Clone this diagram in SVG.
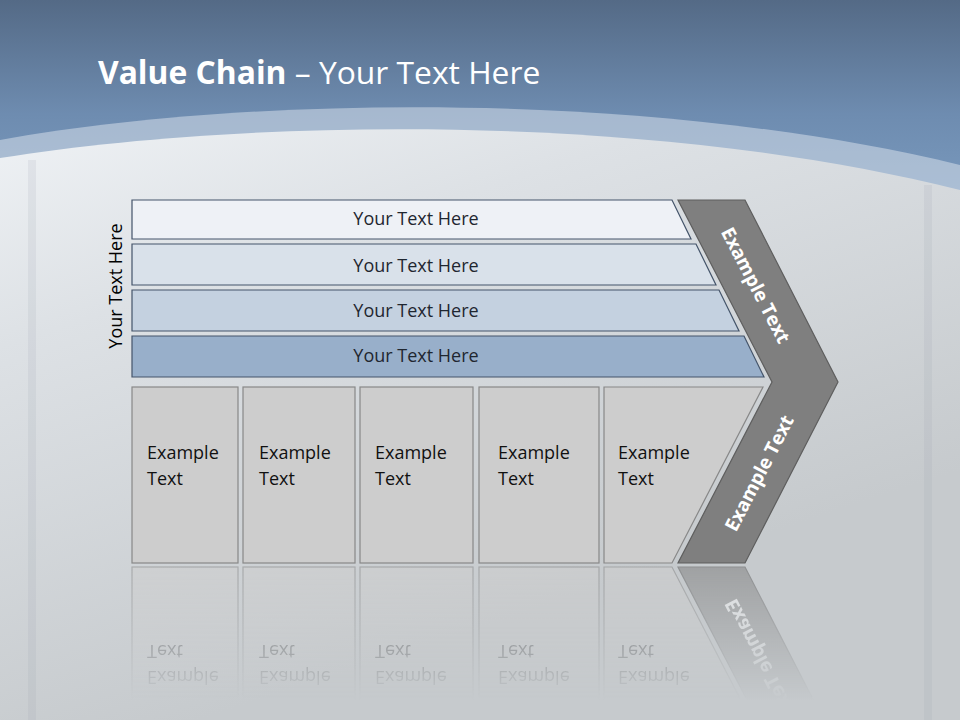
<svg xmlns="http://www.w3.org/2000/svg" width="960" height="720" viewBox="0 0 960 720">
<defs>
<linearGradient id="sky" x1="0" y1="0" x2="0" y2="190" gradientUnits="userSpaceOnUse">
<stop offset="0" stop-color="#546a86"/>
<stop offset="0.6" stop-color="#6e8cb0"/>
<stop offset="1" stop-color="#7898bc"/>
</linearGradient>
<linearGradient id="metal" x1="0" y1="110" x2="200" y2="720" gradientUnits="userSpaceOnUse">
<stop offset="0" stop-color="#f0f3f6"/>
<stop offset="0.35" stop-color="#dde1e5"/>
<stop offset="1" stop-color="#c6cacd"/>
</linearGradient>
<linearGradient id="fade" x1="0" y1="565" x2="0" y2="700" gradientUnits="userSpaceOnUse">
<stop offset="0" stop-color="#fff" stop-opacity="0.55"/>
<stop offset="1" stop-color="#fff" stop-opacity="0"/>
</linearGradient>
<mask id="refl" maskUnits="userSpaceOnUse" x="0" y="565" width="960" height="155">
<rect x="0" y="565" width="960" height="155" fill="url(#fade)"/>
</mask>
<style>
.bar{stroke:#44546a;stroke-width:1.2}
.bt{font-family:"Open Sans","DejaVu Sans",sans-serif;font-size:18px;fill:#1f2630;text-anchor:middle}
.box{fill:#cdcdcd;stroke:#888;stroke-width:1.2}
.xt{font-family:"Open Sans","DejaVu Sans",sans-serif;font-size:18px;fill:#111}
.chev{fill:#7f7f7f;stroke:#5e5e5e;stroke-width:1.2}
.ct{font-family:"Open Sans","DejaVu Sans",sans-serif;font-size:19px;font-weight:bold;fill:#fff;text-anchor:middle}
</style>
</defs>
<rect x="0" y="0" width="960" height="720" fill="url(#sky)"/>
<path d="M0,140 C250,95 650,90 960,165 L960,720 L0,720 Z" fill="#d6dfe9" fill-opacity="0.55"/>
<path d="M0,158 C250,118 650,112 960,190 L960,720 L0,720 Z" fill="url(#metal)"/>
<rect x="28" y="160" width="8" height="560" fill="#9aa3ad" fill-opacity="0.15"/>
<rect x="924" y="185" width="8" height="535" fill="#9aa3ad" fill-opacity="0.15"/>
<text x="98" y="84" font-family="Open Sans, DejaVu Sans, sans-serif" font-size="31.8" fill="#fff"><tspan font-weight="bold">Value Chain</tspan> – Your Text Here</text>
<text transform="translate(122,286) rotate(-90)" x="0" y="0" font-family="Open Sans, DejaVu Sans, sans-serif" font-size="18" fill="#000" text-anchor="middle">Your Text Here</text>
<g id="bar1"><path class="bar" d="M132,200 L672,200 L691,239 L132,239 Z" fill="#eef1f6"/><text class="bt" x="416" y="225">Your Text Here</text></g>
<g id="bar2"><path class="bar" d="M132,244 L696,244 L716,285 L132,285 Z" fill="#d9e1ea"/><text class="bt" x="416" y="272">Your Text Here</text></g>
<g id="bar3"><path class="bar" d="M132,290 L719,290 L739,331 L132,331 Z" fill="#c4d1e0"/><text class="bt" x="416" y="317">Your Text Here</text></g>
<g id="bar4"><path class="bar" d="M132,336 L744,336 L764,377 L132,377 Z" fill="#98afca"/><text class="bt" x="416" y="362">Your Text Here</text></g>
<g id="boxes">
<g id="box1"><rect class="box" x="132" y="387" width="106" height="176"/><text class="xt" x="147" y="459">Example<tspan x="147" dy="26">Text</tspan></text></g>
<g id="box2"><rect class="box" x="243" y="387" width="112" height="176"/><text class="xt" x="259" y="459">Example<tspan x="259" dy="26">Text</tspan></text></g>
<g id="box3"><rect class="box" x="360" y="387" width="113" height="176"/><text class="xt" x="375" y="459">Example<tspan x="375" dy="26">Text</tspan></text></g>
<g id="box4"><rect class="box" x="479" y="387" width="120" height="176"/><text class="xt" x="498" y="459">Example<tspan x="498" dy="26">Text</tspan></text></g>
<g id="box5"><path class="box" d="M604,387 L763,387 L672,563 L604,563 Z"/><text class="xt" x="618" y="459">Example<tspan x="618" dy="26">Text</tspan></text></g>
</g>
<g id="chevron">
<path class="chev" d="M678,200 L745,200 L838,382 L745,563 L678,563 L772,382 Z"/>
<text class="ct" transform="translate(756,285) rotate(62.7)" x="0" y="7">Example Text</text>
<text class="ct" transform="translate(759,473) rotate(-62.7)" x="0" y="7">Example Text</text>
</g>
<g id="reflection" mask="url(#refl)">
<g transform="translate(0,1130) scale(1,-1)">
<rect class="box" x="132" y="387" width="106" height="176"/><text class="xt" x="147" y="459">Example<tspan x="147" dy="26">Text</tspan></text>
<rect class="box" x="243" y="387" width="112" height="176"/><text class="xt" x="259" y="459">Example<tspan x="259" dy="26">Text</tspan></text>
<rect class="box" x="360" y="387" width="113" height="176"/><text class="xt" x="375" y="459">Example<tspan x="375" dy="26">Text</tspan></text>
<rect class="box" x="479" y="387" width="120" height="176"/><text class="xt" x="498" y="459">Example<tspan x="498" dy="26">Text</tspan></text>
<path class="box" d="M604,387 L763,387 L672,563 L604,563 Z"/><text class="xt" x="618" y="459">Example<tspan x="618" dy="26">Text</tspan></text>
<path class="chev" d="M678,200 L745,200 L838,382 L745,563 L678,563 L772,382 Z"/>
<text class="ct" transform="translate(759,473) rotate(-62.7)" x="0" y="7">Example Text</text>
</g>
</g>
</svg>
